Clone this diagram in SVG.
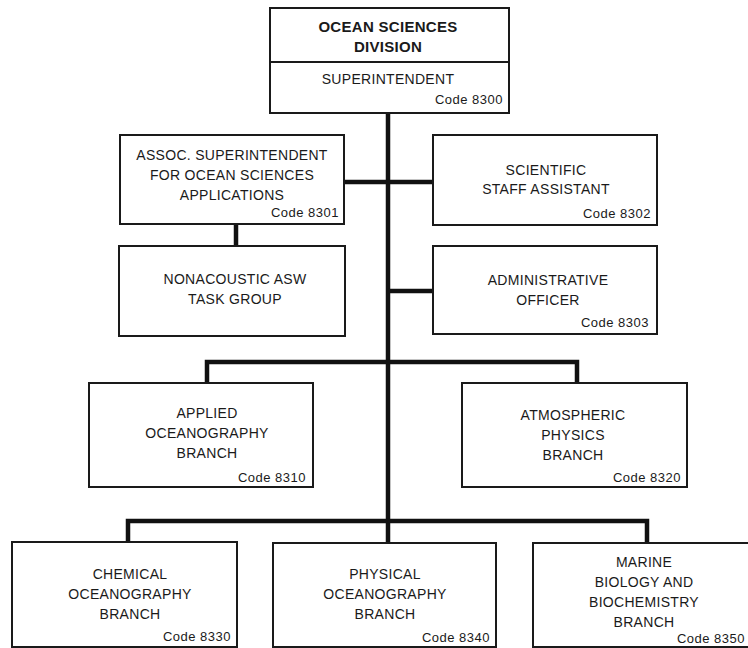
<svg xmlns="http://www.w3.org/2000/svg" width="748" height="648" viewBox="0 0 748 648">
<style>
.box{fill:#fff;stroke:#1a1a1a;stroke-width:2}
.t{font-family:"Liberation Sans",Arial,sans-serif;font-size:14px;fill:#1a1a1a;text-anchor:middle;letter-spacing:0.3px}
.b{font-weight:bold;font-size:15px}
.c{font-family:"Liberation Sans",Arial,sans-serif;font-size:13px;fill:#1a1a1a;text-anchor:end;letter-spacing:0.5px}
.ln{fill:none;stroke:#111;stroke-width:4.5;stroke-linejoin:miter}
</style>
<rect width="748" height="648" fill="#fff"/>
<g id="connectors">
<path class="ln" d="M388,113 V543"/>
<path class="ln" d="M344,182 H433"/>
<path class="ln" d="M388,291 H433"/>
<path class="ln" d="M236,224 V246"/>
<path class="ln" d="M207,383 V362 H577 V383"/>
<path class="ln" d="M128,542 V521 H647 V543"/>
</g>
<g id="division">
<rect class="box" x="270" y="8" width="239" height="105"/>
<line x1="270" y1="62" x2="509" y2="62" stroke="#1a1a1a" stroke-width="2"/>
<text class="t b" x="388" y="32">OCEAN SCIENCES</text>
<text class="t b" x="388" y="52">DIVISION</text>
<text class="t" x="388" y="84">SUPERINTENDENT</text>
<text class="c" x="503" y="104">Code 8300</text>
</g>
<g id="assoc">
<rect class="box" x="120" y="135" width="224" height="89"/>
<text class="t" x="232" y="160">ASSOC. SUPERINTENDENT</text>
<text class="t" x="232" y="180">FOR OCEAN SCIENCES</text>
<text class="t" x="232" y="200">APPLICATIONS</text>
<text class="c" x="339" y="217">Code 8301</text>
</g>
<g id="scientific">
<rect class="box" x="433" y="135" width="224" height="90"/>
<text class="t" x="546" y="175">SCIENTIFIC</text>
<text class="t" x="546" y="194">STAFF ASSISTANT</text>
<text class="c" x="651" y="218">Code 8302</text>
</g>
<g id="nonacoustic">
<rect class="box" x="119" y="246" width="226" height="90"/>
<text class="t" x="235" y="284">NONACOUSTIC ASW</text>
<text class="t" x="235" y="304">TASK GROUP</text>
</g>
<g id="admin">
<rect class="box" x="433" y="246" width="224" height="88"/>
<text class="t" x="548" y="285">ADMINISTRATIVE</text>
<text class="t" x="548" y="305">OFFICER</text>
<text class="c" x="649" y="327">Code 8303</text>
</g>
<g id="applied">
<rect class="box" x="89" y="383" width="224" height="104"/>
<text class="t" x="207" y="418">APPLIED</text>
<text class="t" x="207" y="438">OCEANOGRAPHY</text>
<text class="t" x="207" y="458">BRANCH</text>
<text class="c" x="306" y="482">Code 8310</text>
</g>
<g id="atmospheric">
<rect class="box" x="462" y="383" width="225" height="104"/>
<text class="t" x="573" y="420">ATMOSPHERIC</text>
<text class="t" x="573" y="440">PHYSICS</text>
<text class="t" x="573" y="460">BRANCH</text>
<text class="c" x="681" y="482">Code 8320</text>
</g>
<g id="chemical">
<rect class="box" x="12" y="542" width="225" height="105"/>
<text class="t" x="130" y="579">CHEMICAL</text>
<text class="t" x="130" y="599">OCEANOGRAPHY</text>
<text class="t" x="130" y="619">BRANCH</text>
<text class="c" x="231" y="641">Code 8330</text>
</g>
<g id="physical">
<rect class="box" x="273" y="543" width="223" height="104"/>
<text class="t" x="385" y="579">PHYSICAL</text>
<text class="t" x="385" y="599">OCEANOGRAPHY</text>
<text class="t" x="385" y="619">BRANCH</text>
<text class="c" x="490" y="642">Code 8340</text>
</g>
<g id="marine">
<rect class="box" x="533" y="543" width="229" height="104"/>
<text class="t" x="644" y="567">MARINE</text>
<text class="t" x="644" y="587">BIOLOGY AND</text>
<text class="t" x="644" y="607">BIOCHEMISTRY</text>
<text class="t" x="644" y="627">BRANCH</text>
<text class="c" x="745" y="643">Code 8350</text>
</g>
</svg>
